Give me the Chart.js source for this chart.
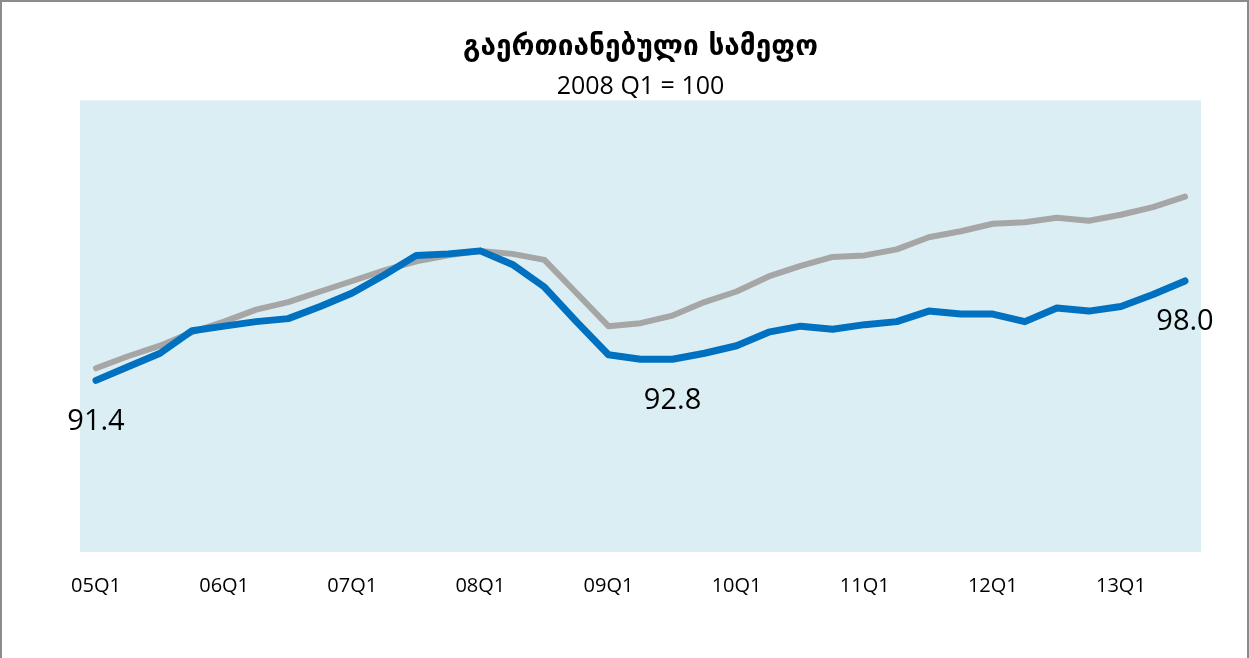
<!DOCTYPE html>
<html>
<head>
<meta charset="utf-8">
<script src="https://cdn.jsdelivr.net/npm/chart.js@4.4.1/dist/chart.umd.min.js"></script>
<style>
    html, body { margin: 0; padding: 0; background: #FFFFFF; overflow: hidden; }
    #wrap { position: relative; width: 1249px; height: 658px; }
    #frame {
        position: absolute; left: 0; top: 0;
        width: 1245px; height: 700px;
        border: 2px solid #8C8C8C;
        pointer-events: none;
    }
</style>
</head>
<body>
<div id="wrap">
    <canvas id="ukChart" width="1249" height="658"></canvas>
    <div id="frame"></div>
</div>
<script>
// quarters 05Q1 .. 13Q3
const quarters = [
    "05Q1", "05Q2", "05Q3", "05Q4",
    "06Q1", "06Q2", "06Q3", "06Q4",
    "07Q1", "07Q2", "07Q3", "07Q4",
    "08Q1", "08Q2", "08Q3", "08Q4",
    "09Q1", "09Q2", "09Q3", "09Q4",
    "10Q1", "10Q2", "10Q3", "10Q4",
    "11Q1", "11Q2", "11Q3", "11Q4",
    "12Q1", "12Q2", "12Q3", "12Q4",
    "13Q1", "13Q2", "13Q3",
];

const seriesBlue = [
    91.4, 92.3, 93.2, 94.7, 95.0, 95.3, 95.5, 96.3,
    97.2, 98.4, 99.7, 99.8, 100.0, 99.1, 97.6, 95.3,
    93.1, 92.8, 92.8, 93.2, 93.7, 94.6, 95.0, 94.8,
    95.1, 95.3, 96.0, 95.8, 95.8, 95.3, 96.2, 96.0,
    96.3, 97.1, 98.0,
];

const seriesGray = [
    92.2, 93.0, 93.7, 94.6, 95.3, 96.1, 96.6, 97.3,
    98.0, 98.7, 99.3, 99.7, 100.0, 99.8, 99.4, 97.2,
    95.0, 95.2, 95.7, 96.6, 97.3, 98.3, 99.0, 99.6,
    99.7, 100.1, 100.9, 101.3, 101.8, 101.9, 102.2, 102.0,
    102.4, 102.9, 103.6,
];

// points of the blue line that carry a value label
const labelledPoints = [0, 18, 34];

const plotBackground = {
    id: "plotBackground",
    beforeDraw(chart) {
        const { ctx, chartArea } = chart;
        ctx.save();
        ctx.fillStyle = "#DBEEF4";
        ctx.fillRect(chartArea.left, chartArea.top, chartArea.right - chartArea.left, chartArea.bottom - chartArea.top);
        ctx.restore();
    },
};

const valueLabels = {
    id: "valueLabels",
    afterDatasetsDraw(chart) {
        const { ctx } = chart;
        const meta = chart.getDatasetMeta(0);
        ctx.save();
        ctx.font = "29px 'Open Sans'";
        ctx.fillStyle = "#000000";
        ctx.textAlign = "center";
        ctx.textBaseline = "middle";
        labelledPoints.forEach(i => {
            const pt = meta.data[i];
            ctx.fillText(seriesBlue[i].toFixed(1), pt.x, pt.y + 41);
        });
        ctx.restore();
    },
};

const ctx = document.getElementById("ukChart").getContext("2d");
new Chart(ctx, {
    type: "line",
    data: {
        labels: quarters,
        datasets: [
            {
                label: "blue",
                data: seriesBlue,
                borderColor: "#0070C0",
                borderWidth: 7,
                pointRadius: 0,
                tension: 0,
                borderCapStyle: "round",
                borderJoinStyle: "round",
                fill: false,
            },
            {
                label: "gray",
                data: seriesGray,
                borderColor: "#A6A6A6",
                borderWidth: 6,
                pointRadius: 0,
                tension: 0,
                borderCapStyle: "round",
                borderJoinStyle: "round",
                fill: false,
            },
        ],
    },
    options: {
        responsive: false,
        animation: false,
        layout: {
            padding: { left: 80, right: 48, top: 0, bottom: 38 },
        },
        scales: {
            x: {
                offset: true,
                grid: { display: false, drawTicks: false },
                border: { display: false },
                ticks: {
                    autoSkip: false,
                    maxRotation: 0,
                    padding: 22,
                    color: "#000000",
                    font: { family: "'Open Sans'", size: 20 },
                    callback: function (value) {
                        const lbl = this.getLabelForValue(value);
                        return lbl.endsWith("Q1") ? lbl : "";
                    },
                },
            },
            y: {
                display: false,
                min: 80,
                max: 110,
            },
        },
        plugins: {
            legend: { display: false },
            tooltip: { enabled: false },
            title: {
                display: true,
                text: "გაერთიანებული სამეფო",
                color: "#000000",
                font: { family: "'DejaVu Sans'", size: 28, weight: "bold", lineHeight: 1.1 },
                padding: { top: 32, bottom: 0 },
            },
            subtitle: {
                display: true,
                text: "2008 Q1 = 100",
                color: "#000000",
                font: { family: "'Open Sans'", size: 25, lineHeight: 1.1 },
                padding: { top: 10, bottom: 0 },
            },
        },
    },
    plugins: [plotBackground, valueLabels],
});
</script>
</body>
</html>
